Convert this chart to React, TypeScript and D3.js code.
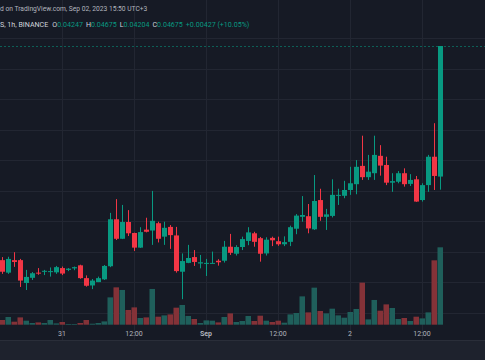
import * as d3 from "d3";

// hourly candles, first one = Aug 30 14:00 (UTC+3), last = Sep 2 15:00
const open = [0.03973,0.03932,0.03973,0.03973,0.03898,0.03915,0.03932,0.03935,0.03936,0.03933,
  0.03947,0.03941,0.03946,0.03956,0.03914,0.03890,0.03901,0.03910,0.03953,0.04107,
  0.04043,0.04098,0.04062,0.04014,0.04073,0.04070,0.04094,0.04050,0.04082,0.04054,
  0.03935,0.03964,0.03983,0.03962,0.03963,0.03963,0.03971,0.03971,0.04017,0.03994,
  0.04016,0.04036,0.04061,0.04045,0.03995,0.04046,0.04035,0.04025,0.04033,0.04076,
  0.04115,0.04117,0.04074,0.04170,0.04115,0.04118,0.04186,0.04184,0.04203,0.04222,
  0.04282,0.04245,0.04258,0.04315,0.04285,0.04227,0.04230,0.04258,0.04223,0.04238,
  0.04170,0.04219,0.04312,0.04247];
const high = [0.03983,0.03984,0.03999,0.03977,0.03941,0.03934,0.03947,0.03941,0.03949,0.03954,
  0.03952,0.03947,0.03952,0.03958,0.03923,0.03911,0.03919,0.03957,0.04128,0.04173,
  0.04154,0.04137,0.04063,0.04081,0.04112,0.04200,0.04099,0.04099,0.04088,0.04082,
  0.03995,0.04023,0.04006,0.03990,0.03977,0.04001,0.03976,0.04036,0.04059,0.04022,
  0.04050,0.04081,0.04066,0.04049,0.04048,0.04050,0.04050,0.04051,0.04086,0.04124,
  0.04183,0.04157,0.04252,0.04207,0.04141,0.04238,0.04207,0.04233,0.04279,0.04301,
  0.04381,0.04318,0.04381,0.04350,0.04312,0.04258,0.04265,0.04274,0.04255,0.04249,
  0.04225,0.04318,0.04422,0.04675];
const low = [0.03928,0.03928,0.03951,0.03885,0.03875,0.03908,0.03925,0.03924,0.03919,0.03928,
  0.03924,0.03937,0.03940,0.03912,0.03886,0.03878,0.03901,0.03908,0.03950,0.04039,
  0.04042,0.04052,0.04003,0.04013,0.04064,0.04023,0.04031,0.04023,0.04010,0.03932,
  0.03845,0.03963,0.03954,0.03946,0.03921,0.03962,0.03955,0.03965,0.03990,0.03988,
  0.04006,0.04022,0.04017,0.03968,0.03988,0.04019,0.04020,0.04019,0.04019,0.04058,
  0.04099,0.04061,0.04072,0.04102,0.04072,0.04113,0.04154,0.04176,0.04187,0.04189,
  0.04236,0.04236,0.04236,0.04250,0.04219,0.04197,0.04225,0.04214,0.04216,0.04164,
  0.04165,0.04197,0.04203,0.04204];
const close = [0.03935,0.03977,0.03967,0.03906,0.03918,0.03930,0.03929,0.03938,0.03937,0.03950,
  0.03929,0.03945,0.03950,0.03914,0.03889,0.03906,0.03914,0.03954,0.04107,0.04043,
  0.04098,0.04061,0.04014,0.04065,0.04066,0.04102,0.04043,0.04079,0.04055,0.03937,
  0.03970,0.03980,0.03967,0.03966,0.03964,0.03964,0.03966,0.04017,0.03997,0.04016,
  0.04042,0.04064,0.04033,0.03994,0.04040,0.04038,0.04025,0.04032,0.04081,0.04119,
  0.04121,0.04077,0.04167,0.04115,0.04123,0.04187,0.04187,0.04203,0.04225,0.04279,
  0.04245,0.04263,0.04318,0.04283,0.04227,0.04232,0.04258,0.04222,0.04236,0.04165,
  0.04219,0.04312,0.04249,0.04675];
const volume = [47,77,30,73,40,17,23,17,47,13,
  27,7,7,17,47,10,17,33,273,373,
  347,147,173,67,73,357,80,93,103,170,
  197,87,57,17,43,40,23,77,113,27,
  37,87,37,90,40,27,40,20,103,117,
  283,123,370,137,113,160,93,70,127,157,
  420,53,247,140,203,167,57,67,37,80,
  63,123,643,773];

// x ticks in hours from Aug 31 00:00
const tickHours = [0, 12, 24, 36, 48, 60];
const tickLabels = ["31", "12:00", "Sep", "12:00", "2", "12:00"];
const priceGrid = [0.047, 0.046, 0.045, 0.044, 0.043, 0.042, 0.041, 0.04, 0.039, 0.038];
const lastPrice = 0.04675;
const header1 = "d on TradingView.com, Sep 02, 2023 15:50 UTC+3";
const ohlcLabels = ["O", "H", "L", "C"];
const ohlcValues = ["0.04247", "0.04675", "0.04204", "0.04675"];
const change = "+0.00427 (+10.05%)";

const W = 485, H = 360;
const UP = "#089981", DOWN = "#f23645";
const VUP = "#1f5f5b", VDOWN = "#843238";

export default function App() {
  const firstHour = -10;
  const x = d3.scaleLinear().domain([-10.333, 70.5]).range([0, W]);
  const y = d3.scaleLinear().domain([0.047, 0.037]).range([38.4, 343.4]);
  const v = d3.scaleLinear().domain([0, 773]).range([324.7, 247.3]);

  const candles = open.map((o, i) => ({ h: firstHour + i, o, hi: high[i], lo: low[i], c: close[i], vol: volume[i] }));
  const font = "Roboto, 'Liberation Sans', sans-serif";

  return (
    <svg width={W} height={H} style={{ position: "fixed", left: 0, top: 0, background: "#161a25" }} fontFamily={font}>
      <rect x={0} y={0} width={W} height={H} fill="#161a25" />
      <g stroke="#222632" strokeWidth={1}>
        {priceGrid.map(p => <line key={p} x1={0} x2={W} y1={Math.round(y(p)) + 0.5} y2={Math.round(y(p)) + 0.5} />)}
        {tickHours.map(t => <line key={t} y1={0} y2={340} x1={Math.round(x(t)) + 0.5} x2={Math.round(x(t)) + 0.5} />)}
      </g>
      <g>
        {candles.map(d => {
          const cx = Math.round(x(d.h));
          const col = d.c >= d.o ? VUP : VDOWN;
          return <rect key={d.h} x={cx - 2.5} width={5.5} y={v(d.vol)} height={v(0) - v(d.vol)} fill={col} />;
        })}
      </g>
      <line x1={0} x2={W} y1={Math.round(y(lastPrice)) + 0.5} y2={Math.round(y(lastPrice)) + 0.5}
        stroke={UP} strokeOpacity={0.55} strokeDasharray="2 2" />
      <g>
        {candles.map(d => {
          const cx = Math.round(x(d.h));
          const col = d.c >= d.o ? UP : DOWN;
          const top = y(Math.max(d.o, d.c));
          const bot = y(Math.min(d.o, d.c));
          return (
            <g key={d.h}>
              <line x1={cx + 0.5} x2={cx + 0.5} y1={y(d.hi)} y2={y(d.lo)} stroke={col} strokeWidth={1} />
              <rect x={cx - 2} width={5} y={top} height={Math.max(1, bot - top)} fill={col} />
            </g>
          );
        })}
      </g>
      <line x1={0} x2={W} y1={340.5} y2={340.5} stroke="#2a2e39" />
      <rect x={0} y={341} width={W} height={19} fill="#1e222d" />
      <g fontSize={7} fill="#b2b5be" textAnchor="middle">
        {tickHours.map((t, i) => (
          <text key={t} x={x(t)} y={335.5} fontWeight={tickLabels[i] === "Sep" ? 700 : 400}>{tickLabels[i]}</text>
        ))}
      </g>
      <text x={0} y={11} fontSize={6.7} fill="#b2b5be">{header1}</text>
      <text x={0} y={27} fontSize={7.1} fill="#d1d4dc">
        <tspan>S, 1h, BINANCE</tspan>
        {ohlcLabels.map((l, i) => (
          <tspan key={l}>
            <tspan dx={i === 0 ? 4 : 3}>{l}</tspan>
            <tspan fill={UP}>{ohlcValues[i]}</tspan>
          </tspan>
        ))}
        <tspan dx={3} fill={UP}>{change}</tspan>
      </text>
    </svg>
  );
}
